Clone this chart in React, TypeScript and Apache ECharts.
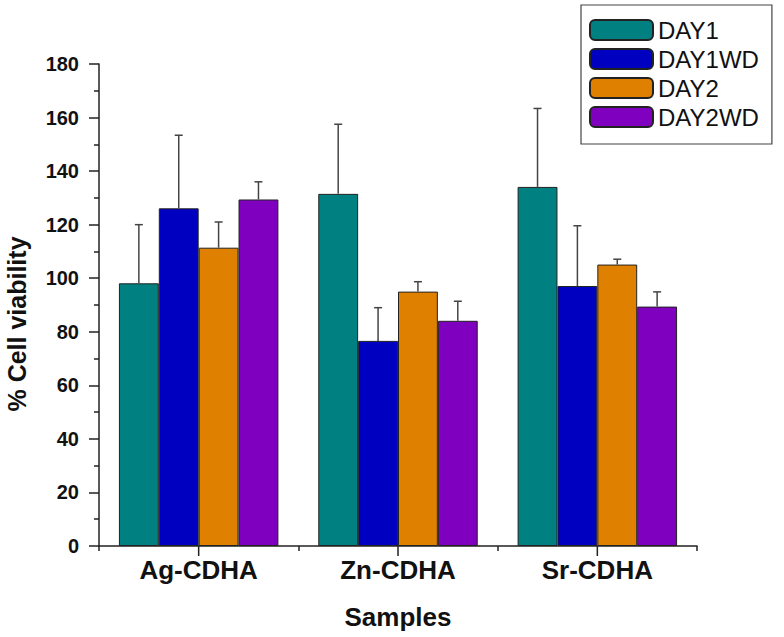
import React, { useEffect, useRef } from "react";
import * as echarts from "echarts";

const categories = ["Ag-CDHA", "Zn-CDHA", "Sr-CDHA"];
const seriesNames = ["DAY1", "DAY1WD", "DAY2", "DAY2WD"];
const day1 = [98.1, 131.5, 134.1];
const day1Err = [21.9, 26.0, 29.3];
const day1wd = [126.1, 76.6, 97.1];
const day1wdErr = [27.3, 12.4, 22.5];
const day2 = [111.4, 95.0, 105.1];
const day2Err = [9.6, 3.7, 2.0];
const day2wd = [129.4, 84.1, 89.4];
const day2wdErr = [6.6, 7.3, 5.5];
const yTicks = { min: 0, max: 180, interval: 20 };
const yTitle = "% Cell viability";
const xTitle = "Samples";

const colors = ["#008080", "#0000C0", "#E08000", "#8000C0"];

export default function App() {
  const ref = useRef<HTMLDivElement>(null);
  useEffect(() => {
    if (!ref.current) return;
    const chart = echarts.init(ref.current, null, { renderer: "svg" });
    const values = [day1, day1wd, day2, day2wd];
    const errs = [day1Err, day1wdErr, day2Err, day2wdErr];
    const nSeries = values.length;
    const catGapRatio = 0.2;

    const errData: number[][] = [];
    values.forEach((vals, s) => {
      vals.forEach((v, c) => {
        errData.push([c, s, v, v + errs[s][c]]);
      });
    });

    const barSeries = seriesNames.map((name, s) => ({
      name,
      type: "bar",
      data: values[s],
      barGap: "0%",
      barCategoryGap: "20%",
      itemStyle: { color: colors[s], borderColor: "#222", borderWidth: 1 },
      z: 2,
    }));

    const option = {
      animation: false,
      grid: { left: 99, right: 87, top: 64, bottom: 91 },
      graphic: [
        {
          type: "text",
          x: 17,
          y: 324,
          rotation: Math.PI / 2,
          style: {
            text: yTitle,
            fontFamily: "Liberation Sans",
            fontWeight: "bold",
            fontSize: 25,
            fill: "#111",
            align: "center",
            verticalAlign: "middle",
          },
        },
      ],
      legend: {
        data: seriesNames,
        orient: "vertical",
        left: 581,
        top: 5,
        padding: [13, 13, 15, 8],
        itemWidth: 63,
        itemHeight: 20,
        itemGap: 5,
        borderColor: "#444",
        borderWidth: 1.2,
        textStyle: {
          fontFamily: "Liberation Sans",
          fontSize: 24,
          color: "#111",
        },
      },
      xAxis: {
        type: "category",
        data: categories,
        name: xTitle,
        nameLocation: "middle",
        nameGap: 58,
        nameTextStyle: {
          fontFamily: "Liberation Sans",
          fontWeight: "bold",
          fontSize: 26,
          color: "#111",
        },
        axisLine: { lineStyle: { color: "#222", width: 1.5 } },
        axisTick: { show: true, length: 5, lineStyle: { color: "#222", width: 1.5 } },
        axisLabel: {
          fontFamily: "Liberation Sans",
          fontWeight: "bold",
          fontSize: 26,
          color: "#111",
          margin: 11,
        },
      },
      yAxis: {
        type: "value",
        min: yTicks.min,
        max: yTicks.max,
        interval: yTicks.interval,
        axisLine: { show: true, lineStyle: { color: "#222", width: 1.5 } },
        axisTick: { show: true, length: 10, lineStyle: { color: "#222", width: 1.5 } },
        minorTick: { show: true, splitNumber: 2, length: 5, lineStyle: { color: "#222", width: 1.5 } },
        splitLine: { show: false },
        axisLabel: {
          fontFamily: "Liberation Sans",
          fontWeight: "bold",
          fontSize: 20,
          color: "#111",
          margin: 20,
        },
      },
      series: [
        ...barSeries,
        {
          type: "custom",
          name: "errors",
          data: errData,
          z: 5,
          silent: true,
          renderItem: (params: any, api: any) => {
            const c = api.value(0);
            const s = api.value(1);
            const base = api.coord([c, api.value(2)]);
            const top = api.coord([c, api.value(3)]);
            const catW = api.size([1, 0])[0];
            const bw = (catW * (1 - catGapRatio)) / nSeries;
            const x = base[0] + (s - (nSeries - 1) / 2) * bw;
            const cap = 4;
            const style = { stroke: "#444", lineWidth: 1.5 };
            return {
              type: "group",
              children: [
                { type: "line", shape: { x1: x, y1: base[1], x2: x, y2: top[1] }, style },
                { type: "line", shape: { x1: x - cap, y1: top[1], x2: x + cap, y2: top[1] }, style },
              ],
            };
          },
        },
        {
          type: "custom",
          name: "centerTicks",
          data: categories.map((_, i) => [i, 0]),
          z: 5,
          silent: true,
          renderItem: (params: any, api: any) => {
            const p = api.coord([api.value(0), 0]);
            return {
              type: "line",
              shape: { x1: p[0], y1: p[1], x2: p[0], y2: p[1] + 10 },
              style: { stroke: "#222", lineWidth: 1.5 },
            };
          },
        },
      ],
    };
    chart.setOption(option as any);
    return () => chart.dispose();
  }, []);
  return (
    <div
      ref={ref}
      style={{ position: "absolute", left: 0, top: 0, width: 784, height: 637, background: "#fff" }}
    />
  );
}
